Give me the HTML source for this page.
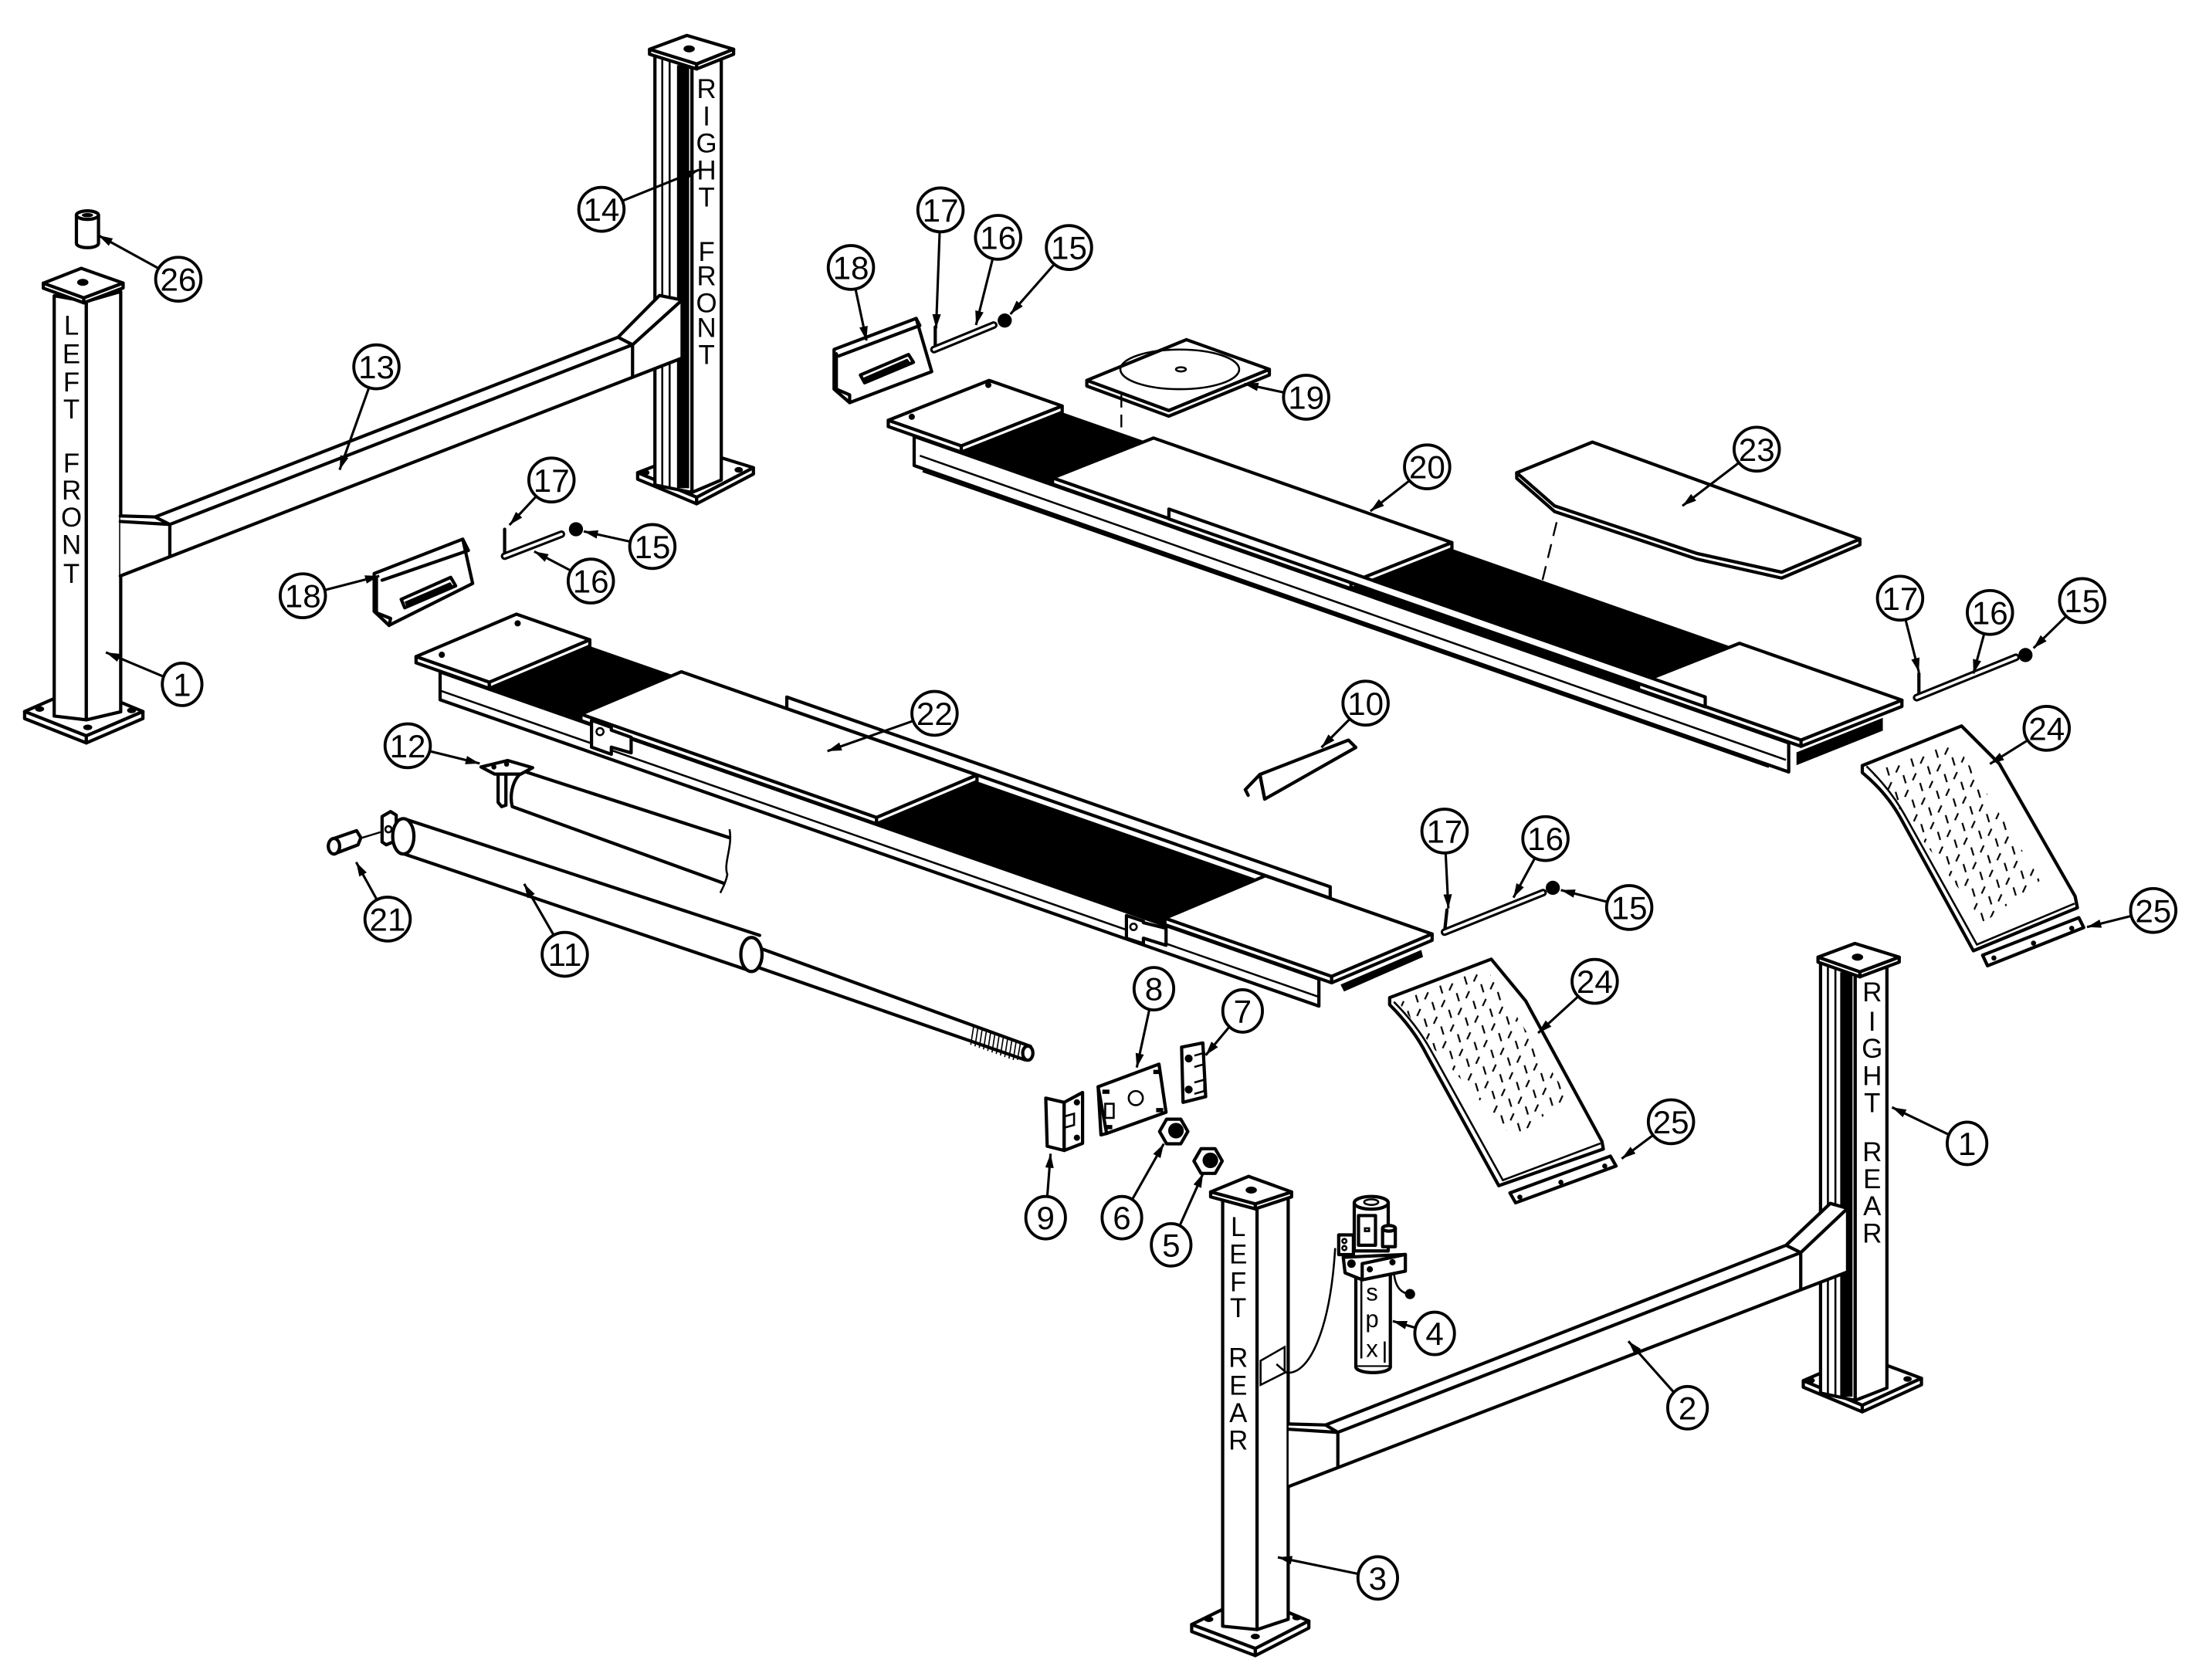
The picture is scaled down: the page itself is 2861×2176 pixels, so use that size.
<!DOCTYPE html>
<html><head><meta charset="utf-8"><style>
html,body{margin:0;padding:0;background:#fff;}
svg{display:block;}
text{font-family:"Liberation Sans",sans-serif;fill:#000;}
.n{font-size:23px;text-anchor:middle;}
.p{font-size:19px;text-anchor:middle;}
.s{fill:#fff;stroke:#000;stroke-width:2.3;stroke-linejoin:round;}
.l{fill:none;stroke:#000;stroke-width:2.3;stroke-linejoin:round;stroke-linecap:round;}
.t{fill:none;stroke:#000;stroke-width:1.4;}
.k{fill:#000;stroke:#000;stroke-width:1;}
.ld{fill:none;stroke:#000;stroke-width:1.7;}
.c{fill:#fff;stroke:#000;stroke-width:2.1;}
</style></head><body>
<svg width="2861" height="2176" viewBox="0 0 1561 1187.2" xmlns="http://www.w3.org/2000/svg">
<defs>
<marker id="a" markerUnits="userSpaceOnUse" markerWidth="11" markerHeight="8" refX="10" refY="4" orient="auto"><path d="M0,1 L10,4 L0,7 Z" fill="#000"/></marker>
<pattern id="dp" width="13" height="13" patternUnits="userSpaceOnUse" patternTransform="rotate(25)">
<path d="M2,1 L2,6.5 M7.5,6 L11.5,10.5" stroke="#000" stroke-width="1.2" fill="none"/>
</pattern>
<clipPath id="c24a"><polygon points="1322,545 1380,522 1442,622 1402,652 1350,582"/></clipPath>
<clipPath id="c24b"><polygon points="988,708 1050,684 1108,775 1070,805 1014,742"/></clipPath>
</defs>

<!-- LEFT FRONT POST -->
<polygon class="s" points="17.4,502.8 58,485 101,502.8 61,520"/>
<polygon class="s" points="17.4,502.8 61,520 61,525 17.4,507.8"/>
<polygon class="s" points="61,520 101,502.8 101,507.8 61,525"/>
<ellipse cx="28" cy="501" rx="3.2" ry="2" fill="#000"/><ellipse cx="62" cy="514" rx="3.2" ry="2" fill="#000"/><ellipse cx="93" cy="502" rx="3.2" ry="2" fill="#000"/>
<polygon class="s" points="38.3,209 61,213 61,508.7 38.3,506"/>
<polygon class="s" points="61,213 85.3,206 85.3,503 61,508.7"/>
<polygon class="s" points="30.6,200.1 57.4,189.6 87,200 59.2,210.5"/>
<polygon class="s" points="30.6,200.1 59.2,210.5 59.2,214 30.6,203.6"/>
<polygon class="s" points="59.2,210.5 87,200 87,203.5 59.2,214"/>
<ellipse cx="58.5" cy="199.5" rx="4" ry="2.5" fill="#000"/>
<text class="p"><tspan x="50.5" y="236.6">L</tspan><tspan x="50.5" y="256.8">E</tspan><tspan x="50.5" y="276.7">F</tspan><tspan x="50.5" y="295.8">T</tspan><tspan x="50.5" y="315"> </tspan><tspan x="50.5" y="334">F</tspan><tspan x="50.5" y="353">R</tspan><tspan x="50.5" y="372">O</tspan><tspan x="50.5" y="391.5">N</tspan><tspan x="50.5" y="412">T</tspan></text>

<!-- RIGHT FRONT POST -->
<polygon class="s" points="450.6,334 492,318 532.4,330.5 492.3,351.4"/>
<polygon class="s" points="450.6,334 492.3,351.4 492.3,356 450.6,338.6"/>
<polygon class="s" points="492.3,351.4 532.4,330.5 532.4,335 492.3,356"/>
<ellipse cx="456" cy="334" rx="3" ry="2" fill="#000"/><ellipse cx="522" cy="332" rx="3" ry="2" fill="#000"/>
<polygon class="s" points="462.8,38.5 489,48 489,348 462.8,342.7"/>
<polygon class="s" points="489,48 509.7,38.5 509.7,339.2 489,348"/>
<path class="t" d="M468,41 L468,344 M473.2,43 L473.2,345"/>
<rect x="478.4" y="46" width="8.6" height="299" fill="#000"/>
<polygon class="s" points="459,34.8 485.4,25 518.4,34.8 492.3,45.2"/>
<polygon class="s" points="459,34.8 492.3,45.2 492.3,48.7 459,38.3"/>
<polygon class="s" points="492.3,45.2 518.4,34.8 518.4,38.3 492.3,48.7"/>
<ellipse cx="487" cy="34.5" rx="4" ry="2.5" fill="#000"/>
<text class="p"><tspan x="499.3" y="69.4">R</tspan><tspan x="499.3" y="88.6">I</tspan><tspan x="499.3" y="107.8">G</tspan><tspan x="499.3" y="126.8">H</tspan><tspan x="499.3" y="145.8">T</tspan><tspan x="499.3" y="165"> </tspan><tspan x="499.3" y="184.3">F</tspan><tspan x="499.3" y="201.6">R</tspan><tspan x="499.3" y="220.8">O</tspan><tspan x="499.3" y="238.2">N</tspan><tspan x="499.3" y="257.3">T</tspan></text>

<!-- BEAM 13 -->
<polygon fill="#fff" points="85,364.6 109.6,365.3 436.7,238.3 466,208.8 482,212 482,253 85,407"/>
<path class="l" d="M85,364.6 L109.6,365.3 L436.7,238.3 L466,208.8 L482,212 M85,368.5 L120,370.6 L447,243.6 L482,212 M109.6,365.3 L120,370.6 L120,393.4 M447,243.6 L447,266.5 M436.7,238.3 L447,243.6 M85,407 L482,253 M482,212 L482,253"/>

<!-- PART 26 -->
<path class="s" d="M54,152 L54,172 A7.8,3 0 0 0 69.6,172 L69.6,152 Z"/>
<ellipse class="s" cx="61.8" cy="152" rx="7.8" ry="3"/>
<ellipse cx="61.8" cy="152" rx="4" ry="1.5" fill="#000"/>

<!-- PART 18 (left) -->
<polygon class="s" points="264.4,405.3 327,381 334,412.3 274.9,441.9 264.4,432"/>
<path class="l" d="M270,410 L331,389 M266,408 L266,433 L276,437 M276,437 L275,442 M327,381 L331,389"/>
<polygon class="s" points="283.5,423.5 318.5,408 322,414 286,429.5"/>
<polygon class="k" points="286.5,425.5 318,412 319.8,414.5 287.5,428"/>

<!-- 17/16/15 left -->
<path class="l" d="M356.6,374 L356.6,393"/>
<line x1="356.6" y1="393" x2="396.7" y2="377.5" stroke="#000" stroke-width="5.4" stroke-linecap="round"/>
<line x1="356.6" y1="393" x2="396.7" y2="377.5" stroke="#fff" stroke-width="2" stroke-linecap="round"/>
<circle cx="407" cy="374" r="5" fill="#000"/>

<!-- RUNWAY 20 -->
<polygon class="s" points="646,308.4 1264,525 1264,545.5 646,329"/>
<path class="t" d="M650,322 L1262,537 M652,333 L1250,542"/>
<polygon class="k" points="750.6,291.9 815.1,314.5 743.8,342.7 679.3,320.1"/>
<polygon class="k" points="1026,388.4 1229.2,459.6 1157.9,487.8 954.7,416.6"/>
<polygon class="s" points="699,268.8 750.6,286.9 679.3,315.1 627.7,297"/>
<polygon class="s" points="627.7,297 679.3,315.1 679.3,319.5 627.7,301.4"/>
<polygon class="s" points="679.3,315.1 750.6,286.9 750.6,291.3 679.3,319.5"/>
<polygon class="s" points="815.1,309.5 1026,383.4 954.7,411.6 743.8,337.7"/>
<polygon class="s" points="743.8,337.7 954.7,411.6 954.7,416 743.8,342.1"/>
<polygon class="s" points="954.7,411.6 1026,383.4 1026,387.8 954.7,416"/>
<polygon class="s" points="1229.2,454.6 1344,494.8 1272.7,523 1157.9,482.8"/>
<polygon class="s" points="1157.9,482.8 1272.7,523 1272.7,527.4 1157.9,487.2"/>
<polygon class="s" points="1272.7,523 1344,494.8 1344,499.2 1272.7,527.4"/>
<polygon class="s" points="826,359.7 1205,492.5 1205,499.5 826,366.7"/>
<polygon class="k" points="1270,532 1330,508 1330,516 1270,540"/>
<circle cx="644.3" cy="294.5" r="2.2" fill="#000"/><circle cx="698.4" cy="272" r="2.2" fill="#000"/>

<!-- PART 19 -->
<polygon class="s" points="768,268.8 838.4,240 897,261 825.9,290.1"/>
<polygon class="s" points="768,268.8 825.9,290.1 897,261 897,265 825.9,294.1 768,272.8"/>
<ellipse class="t" cx="833.7" cy="261" rx="42" ry="14"/>
<ellipse class="t" cx="834.5" cy="261" rx="3.5" ry="1.5"/>
<path d="M792.4,279 L792.4,312" stroke="#000" stroke-width="1.3" stroke-dasharray="9,5"/>

<!-- PART 18 (right) -->
<polygon class="s" points="589.4,246.9 647.4,225 658.4,262.6 600.4,284.5 589.4,275"/>
<path class="l" d="M592.6,251.6 L650,230 M591,250 L591,275 L600.4,279 L600.4,284.5 M647.4,225 L650,230"/>
<polygon class="s" points="608,265 642,250.5 645.5,256 611,270.5"/>
<polygon class="k" points="611,267 641,254 642.8,256.5 612,269.5"/>

<!-- 17/16/15 top -->
<path class="l" d="M660.9,231 L660.9,247"/>
<line x1="660" y1="247" x2="702.2" y2="229.7" stroke="#000" stroke-width="5.4" stroke-linecap="round"/>
<line x1="660" y1="247" x2="702.2" y2="229.7" stroke="#fff" stroke-width="2" stroke-linecap="round"/>
<circle cx="710" cy="226.5" r="5" fill="#000"/>

<!-- PART 23 -->
<polygon class="s" points="1071.8,334.1 1098.6,357.5 1198.9,391 1259,404.3 1314.3,380.9 1314.3,385 1259,408.5 1198.9,395 1098.6,361.5 1071.8,338"/>
<polygon class="s" points="1071.8,334.1 1125.3,312.4 1314.3,380.9 1259,404.3 1198.9,391 1098.6,357.5"/>
<path d="M1100,369 L1090,410" stroke="#000" stroke-width="1.3" stroke-dasharray="10,6"/>

<!-- 17/16/15 right -->
<path class="l" d="M1356,476 L1356,493"/>
<line x1="1354.4" y1="493" x2="1424.6" y2="464.5" stroke="#000" stroke-width="5.4" stroke-linecap="round"/>
<line x1="1354.4" y1="493" x2="1424.6" y2="464.5" stroke="#fff" stroke-width="2" stroke-linecap="round"/>
<circle cx="1431.3" cy="462.9" r="5" fill="#000"/>

<!-- PART 24 (right) -->
<path class="s" d="M1316,541 L1386.1,513 L1412.9,539.8 L1466.4,633.4 L1468,641.5 L1394.5,671.9 L1343,578 Q1333,560 1316,546 Z"/>
<path class="t" d="M1319,541.5 Q1336,558 1346,576 L1397,667.5 L1466,638.5"/>
<rect x="1300" y="500" width="180" height="180" fill="url(#dp)" clip-path="url(#c24a)"/>
<!-- PART 25 (right) -->
<polygon class="s" points="1401,675 1469,648.5 1472.5,655.5 1404.5,682.5"/>
<circle cx="1409" cy="677" r="1.8" fill="#000"/><circle cx="1437" cy="666.5" r="1.8" fill="#000"/><circle cx="1464" cy="656" r="1.8" fill="#000"/>

<!-- RUNWAY 22 -->
<polygon class="s" points="311,474.9 932,691.9 932,711 311,494.5"/>
<path class="t" d="M311,488 L932,704.5"/>
<polygon class="k" points="416.8,457.1 481.5,479.7 410.5,509.7 345.8,487.1"/>
<polygon class="k" points="690.4,552.7 894.2,623.9 823.2,653.9 619.4,582.7"/>
<polygon class="s" points="365,434 416.8,452.1 345.8,482.1 294,464"/>
<polygon class="s" points="294,464 345.8,482.1 345.8,486.5 294,468.4"/>
<polygon class="s" points="345.8,482.1 416.8,452.1 416.8,456.5 345.8,486.5"/>
<polygon class="s" points="481.5,474.7 690.4,547.7 619.4,577.7 410.5,504.7"/>
<polygon class="s" points="410.5,504.7 619.4,577.7 619.4,582.2 410.5,509.2"/>
<polygon class="s" points="619.4,577.7 690.4,547.7 690.4,552.2 619.4,582.2"/>
<polygon class="s" points="894.2,618.9 1012,660 941,690 823.2,648.9"/>
<polygon class="s" points="823.2,648.9 941,690 941,694.5 823.2,653.4"/>
<polygon class="s" points="941,690 1012,660 1012,664.5 941,694.5"/>
<polygon class="s" points="556,492.6 940,626.7 940,634.7 556,500.7"/>
<polygon class="k" points="948,696 1004,672 1005,676 950,700"/>
<circle cx="312.2" cy="462.7" r="2.2" fill="#000"/><circle cx="365.8" cy="440.5" r="2.2" fill="#000"/>
<path class="s" d="M418,509 L418,528 L432,533 L432,528 L446,532 L446,521 L432,516 L432,514 Z"/>
<circle class="t" cx="424" cy="517" r="2.5"/>
<path class="s" d="M796,647 L796,663 L808,667 L808,663 L824,668 L824,656 L808,652 L808,651 Z"/>
<circle class="t" cx="801" cy="655" r="2.3"/>

<!-- CYLINDER 12 -->
<polygon fill="#fff" points="370,545 515.5,592 511,624 362,570"/>
<path class="l" d="M370,545 L515.5,592 M362,570 L511,624 M370,545 C362,550 360,562 362,570"/>
<path class="t" d="M515.5,586 C518,598 511,610 514,618 C513,623 511,627 509,631"/>
<polygon class="s" points="352,545 357.5,546 357.5,569 354.5,570 352,567"/>
<polygon class="s" points="339.9,542 358.7,537.4 376.4,542.5 368,547 349.5,547"/>
<circle cx="349" cy="542" r="1.8" fill="#000"/><circle cx="358" cy="540" r="1.8" fill="#000"/>

<!-- CYLINDER 11 -->
<polygon class="s" points="270,577 276,573.5 280,576 280,594 273,597 270,595"/>
<circle class="t" cx="274.5" cy="586" r="2.2"/>
<path d="M256,592 L269,588" stroke="#000" stroke-width="1.3"/>
<polygon fill="#fff" points="286,578.7 536.8,661 529.2,685.8 286,603.6"/>
<path class="l" d="M286,578.7 L536.8,661 M286,603.6 L529.2,685.8"/>
<ellipse class="s" cx="285" cy="591" rx="7.5" ry="12.5"/>
<polygon fill="#fff" points="533,668.6 728.2,739.4 724.4,749 531,682"/>
<path class="l" d="M533,668.6 L728.2,739.4 M531,682 L724.4,749"/>
<ellipse class="s" cx="531" cy="674.5" rx="7.5" ry="12"/>
<ellipse class="s" cx="726.3" cy="744.2" rx="3.6" ry="5"/>
<path stroke="#000" stroke-width="0.9" d="M688,725.5 L686,738.3 M691,726.6 L689,739.4 M694,727.7 L692,740.5 M697,728.8 L695,741.6 M700,729.9 L698,742.7 M703,731 L701,743.8 M706,732 L704,744.8 M709,733.1 L707,745.9 M712,734.2 L710,747 M715,735.3 L713,748.1 M718,736.4 L716,749 M721,737.5 L719,749"/>
<!-- PART 21 -->
<polygon class="s" points="236,592.5 252,587 255,592 253,597 236,603.5"/>
<ellipse class="s" cx="236" cy="598" rx="4" ry="5.5"/>

<!-- PART 10 -->
<polygon class="s" points="890.3,547.3 952.9,523 958.1,528.2 893.7,564.7"/>
<path class="l" d="M890.3,547.3 L880,558 L882,562 M890.3,547.3 L893.7,564.7"/>

<!-- 17/16/15 lower -->
<path class="l" d="M1022.5,643 L1020.8,658.7"/>
<line x1="1020.8" y1="658.7" x2="1090.4" y2="630.8" stroke="#000" stroke-width="5.4" stroke-linecap="round"/>
<line x1="1020.8" y1="658.7" x2="1090.4" y2="630.8" stroke="#fff" stroke-width="2" stroke-linecap="round"/>
<circle cx="1097.3" cy="627.4" r="5" fill="#000"/>

<!-- PART 24 (lower) -->
<path class="s" d="M982,705 L1053.8,677.8 L1078.2,707.4 L1132,806.6 L1133,812 L1059.1,837.9 L1008,745 Q999,727 982,710 Z"/>
<path class="t" d="M985,708 Q1001,724 1011,742 L1062,834 L1131,808"/>
<rect x="970" y="670" width="170" height="170" fill="url(#dp)" clip-path="url(#c24b)"/>
<!-- PART 25 (lower) -->
<polygon class="s" points="1067,843 1138,817 1142,824 1071,850"/>
<circle cx="1074" cy="846" r="1.8" fill="#000"/><circle cx="1103" cy="835.5" r="1.8" fill="#000"/><circle cx="1134" cy="824" r="1.8" fill="#000"/>

<!-- PART 8 -->
<polygon class="s" points="776,768 819,752 824,786 782,801"/>
<path class="l" d="M776,768 L778,802 L782,801"/>
<ellipse class="t" cx="802.6" cy="776" rx="5" ry="5"/>
<rect x="779" y="770" width="5" height="3" fill="#000"/><rect x="815" y="756" width="5" height="3" fill="#000"/><rect x="817" y="783" width="5" height="3" fill="#000"/><rect x="781" y="795" width="5" height="3" fill="#000"/>
<rect class="t" x="781" y="780" width="6" height="10"/>
<!-- PART 7 -->
<polygon class="s" points="835,740 850,737 852,775 836,779"/>
<circle cx="840" cy="748" r="2.8" fill="#000"/><circle cx="840" cy="770" r="2.8" fill="#000"/>
<path class="t" d="M844,746 L851,744 L851,752 L844,754 M844,765 L851,763 L851,771 L844,773"/>
<!-- PART 9 -->
<polygon class="s" points="739,776 752,779 752,813 740,810"/>
<polygon class="s" points="752,779 765,772 765,808 752,813"/>
<path class="t" d="M752,789 L759,787 L759,795 L752,797"/>
<circle cx="761" cy="779" r="2.2" fill="#000"/><circle cx="761" cy="804" r="2.2" fill="#000"/>
<!-- NUTS 6, 5 -->
<polygon class="s" points="839.4,799.6 834.4,808.3 824.4,808.3 819.4,799.6 824.4,790.9 834.4,790.9"/>
<circle cx="831" cy="799" r="5.5" fill="#000"/>
<polygon class="s" points="863.7,820.5 858.7,829.2 848.7,829.2 843.7,820.5 848.7,811.8 858.7,811.8"/>
<circle cx="855.3" cy="820" r="5.5" fill="#000"/>

<!-- LEFT REAR POST -->
<polygon class="s" points="842.1,1148 883,1128 924.9,1145.5 887.1,1165"/>
<polygon class="s" points="842.1,1148 887.1,1165 887.1,1170 842.1,1153"/>
<polygon class="s" points="887.1,1165 924.9,1145.5 924.9,1150.5 887.1,1170"/>
<ellipse cx="854.2" cy="1144.3" rx="3.2" ry="2" fill="#000"/><ellipse cx="887.1" cy="1156.5" rx="3.2" ry="2" fill="#000"/><ellipse cx="916.4" cy="1143.1" rx="3.2" ry="2" fill="#000"/>
<polygon class="s" points="864,846 888.3,852 888.3,1151.6 864,1149.2"/>
<polygon class="s" points="888.3,852 910.3,844 910.3,1144.3 888.3,1151.6"/>
<polygon class="s" points="855.5,842.3 882.3,831.3 912.7,842.3 887.1,850.8"/>
<polygon class="s" points="855.5,842.3 887.1,850.8 887.1,854.3 855.5,845.8"/>
<polygon class="s" points="887.1,850.8 912.7,842.3 912.7,845.8 887.1,854.3"/>
<ellipse cx="884.2" cy="841" rx="4" ry="2.5" fill="#000"/>
<text class="p"><tspan x="875" y="873.4">L</tspan><tspan x="875" y="892.9">E</tspan><tspan x="875" y="912.4">F</tspan><tspan x="875" y="930.7">T</tspan><tspan x="875" y="948"> </tspan><tspan x="875" y="966">R</tspan><tspan x="875" y="985.5">E</tspan><tspan x="875" y="1005">A</tspan><tspan x="875" y="1024.4">R</tspan></text>
<polygon class="t" points="890.8,961.6 907.8,951.9 907.8,970.1 890.8,978.7" fill="#fff"/>
<path class="t" d="M902,964 L909,970 C925,972 940,940 943.5,882" stroke-width="1.1"/>

<!-- PART 4 -->
<rect class="s" x="958.1" y="898" width="24.4" height="68"/>
<path class="s" d="M958.1,966 A12.2,4 0 0 0 982.5,966"/>
<path class="t" d="M962,905 L962,960 M978.5,948 L978.5,963"/>
<rect class="s" x="957" y="850" width="24" height="34"/>
<ellipse class="s" cx="969" cy="850" rx="12" ry="4.5"/>
<ellipse class="t" cx="969" cy="849.5" rx="5" ry="2"/>
<rect class="s" x="960" y="859" width="12" height="21" stroke-width="1.5"/>
<rect class="t" x="964.5" y="868" width="3" height="2"/>
<rect class="s" x="977" y="868" width="9" height="13" stroke-width="1.5"/>
<ellipse class="s" cx="981.5" cy="868" rx="4.5" ry="2" stroke-width="1.5"/>
<rect class="s" x="946" y="872.7" width="10.4" height="13.9" stroke-width="1.5"/>
<circle class="t" cx="950" cy="877" r="1.5"/><circle class="t" cx="950" cy="882" r="1.5"/>
<polygon class="s" points="949.2,888.5 993.1,886.5 993.1,898.3 962.6,904.4 950.5,899.5"/>
<path class="l" d="M962.6,893 L962.6,904.4 M962.6,893 L993.1,886.5"/>
<circle cx="955" cy="893" r="3" fill="#000"/><circle cx="968" cy="897" r="2.2" fill="#000"/><circle cx="984" cy="892" r="2.2" fill="#000"/>
<path class="t" d="M985,899 Q986,912 994,914"/>
<circle cx="996.4" cy="914.5" r="3.6" fill="#000"/>
<text x="969.6" y="919" style="font-size:17px;text-anchor:middle">s</text>
<text x="969.6" y="938" style="font-size:17px;text-anchor:middle">p</text>
<text x="969.6" y="959" style="font-size:17px;text-anchor:middle">x</text>

<!-- RIGHT REAR POST -->
<polygon class="s" points="1274.3,975.7 1315,958 1357.8,974 1316,993.1"/>
<polygon class="s" points="1274.3,975.7 1316,993.1 1316,997.7 1274.3,980.3"/>
<polygon class="s" points="1316,993.1 1357.8,974 1357.8,978.6 1316,997.7"/>
<ellipse cx="1279.5" cy="975.5" rx="3" ry="2" fill="#000"/><ellipse cx="1348" cy="974.5" rx="3" ry="2" fill="#000"/>
<polygon class="s" points="1286.5,680 1311,689 1311,989.6 1286.5,984.4"/>
<polygon class="s" points="1311,689 1333.4,679 1333.4,980.9 1311,989.6"/>
<path class="t" d="M1291.7,682 L1291.7,986 M1297,684 L1297,987"/>
<rect x="1300.4" y="687" width="8.7" height="300" fill="#000"/>
<polygon class="s" points="1284.7,676.4 1310.8,666.7 1342.1,676.4 1314.3,686.8"/>
<polygon class="s" points="1284.7,676.4 1314.3,686.8 1314.3,690.3 1284.7,679.9"/>
<polygon class="s" points="1314.3,686.8 1342.1,676.4 1342.1,679.9 1314.3,690.3"/>
<ellipse cx="1312.6" cy="676.4" rx="4" ry="2.5" fill="#000"/>
<text class="p"><tspan x="1323" y="707.6">R</tspan><tspan x="1323" y="728.4">I</tspan><tspan x="1323" y="747.6">G</tspan><tspan x="1323" y="766.7">H</tspan><tspan x="1323" y="785.9">T</tspan><tspan x="1323" y="803"> </tspan><tspan x="1323" y="820.7">R</tspan><tspan x="1323" y="839.8">E</tspan><tspan x="1323" y="858.9">A</tspan><tspan x="1323" y="878.1">R</tspan></text>

<!-- BEAM 2 -->
<polygon fill="#fff" points="910.6,1006.3 936.7,1007 1262.1,880 1293.4,850.4 1305.6,853.9 1305.6,898.8 910.6,1050.5"/>
<path class="l" d="M910.6,1006.3 L936.7,1007 L1262.1,880 L1293.4,850.4 L1305.6,853.9 M910.6,1010 L945.4,1012.2 L1272.5,885.2 L1305.6,853.9 M936.7,1007 L945.4,1012.2 L945.4,1037 M1272.5,885.2 L1272.5,911.5 M1262.1,880 L1272.5,885.2 M910.6,1050.5 L1305.6,898.8 M1305.6,853.9 L1305.6,898.8"/>

<!-- LEADERS -->
<g class="ld" marker-end="url(#a)">
<line x1="126" y1="197.3" x2="69.6" y2="166.3"/>
<line x1="266" y1="259.2" x2="240" y2="332"/>
<line x1="425" y1="147.9" x2="494" y2="120"/>
<line x1="389.7" y1="339.2" x2="360" y2="371"/>
<line x1="417.5" y1="410.6" x2="377.5" y2="389.7"/>
<line x1="461" y1="386.2" x2="412.5" y2="375.5"/>
<line x1="214" y1="421" x2="268" y2="407"/>
<line x1="288.1" y1="527" x2="339" y2="539.5"/>
<line x1="273.9" y1="649.5" x2="251.7" y2="609.3"/>
<line x1="399.1" y1="674.4" x2="370.4" y2="624.6"/>
<line x1="660.4" y1="504.1" x2="584.7" y2="530.8"/>
<line x1="601.3" y1="189" x2="612.3" y2="240.6"/>
<line x1="664.6" y1="148.3" x2="661.5" y2="232"/>
<line x1="705.3" y1="167.7" x2="689.7" y2="229.7"/>
<line x1="755.4" y1="174.9" x2="714" y2="222"/>
<line x1="923" y1="280.7" x2="879.2" y2="271.3"/>
<line x1="1008.5" y1="329.9" x2="968.4" y2="361.2"/>
<line x1="1241.4" y1="317.4" x2="1188.9" y2="357.5"/>
<line x1="1342.7" y1="422.7" x2="1356" y2="475"/>
<line x1="1406.2" y1="432.8" x2="1394.5" y2="476"/>
<line x1="1471.4" y1="424.4" x2="1437" y2="458"/>
<line x1="1446.3" y1="514.7" x2="1406.2" y2="539.8"/>
<line x1="1521.6" y1="643.4" x2="1474.8" y2="655.1"/>
<line x1="965" y1="496.9" x2="933.8" y2="528.2"/>
<line x1="1020.8" y1="587.3" x2="1023.5" y2="642"/>
<line x1="1092.1" y1="592.6" x2="1069.5" y2="634.3"/>
<line x1="1151.3" y1="641.3" x2="1103" y2="629"/>
<line x1="1126.9" y1="693.5" x2="1086.9" y2="730"/>
<line x1="1180.8" y1="792.7" x2="1146" y2="818.8"/>
<line x1="128.7" y1="483.6" x2="74.8" y2="461"/>
<line x1="815.4" y1="698.7" x2="803.3" y2="754.4"/>
<line x1="878.1" y1="714.4" x2="852" y2="745.7"/>
<line x1="738.9" y1="860.5" x2="742.4" y2="815.3"/>
<line x1="792.8" y1="860.5" x2="822.4" y2="808.3"/>
<line x1="827.6" y1="879.7" x2="850.2" y2="829.2"/>
<line x1="1013.8" y1="942.3" x2="984.2" y2="933.6"/>
<line x1="973.6" y1="1115.1" x2="903" y2="1100.5"/>
<line x1="1192.5" y1="994.8" x2="1150.7" y2="947.8"/>
<line x1="1390" y1="808" x2="1337" y2="782.5"/>
</g>

<!-- BALLOONS -->
<g class="c">
<ellipse cx="126" cy="197.3" rx="16" ry="15.5"/>
<ellipse cx="266" cy="259.2" rx="16" ry="15.5"/>
<ellipse cx="425" cy="147.9" rx="16" ry="15.5"/>
<ellipse cx="389.7" cy="339.2" rx="16" ry="15.5"/>
<ellipse cx="417.5" cy="410.6" rx="16" ry="15.5"/>
<ellipse cx="461" cy="386.2" rx="16" ry="15.5"/>
<ellipse cx="214" cy="421" rx="16" ry="15.5"/>
<ellipse cx="288.1" cy="527" rx="16" ry="15.5"/>
<ellipse cx="273.9" cy="649.5" rx="16" ry="15.5"/>
<ellipse cx="399.1" cy="674.4" rx="16" ry="15.5"/>
<ellipse cx="660.4" cy="504.1" rx="16" ry="15.5"/>
<ellipse cx="601.3" cy="189" rx="16" ry="15.5"/>
<ellipse cx="664.6" cy="148.3" rx="16" ry="15.5"/>
<ellipse cx="705.3" cy="167.7" rx="16" ry="15.5"/>
<ellipse cx="755.4" cy="174.9" rx="16" ry="15.5"/>
<ellipse cx="923" cy="280.7" rx="16" ry="15.5"/>
<ellipse cx="1008.5" cy="329.9" rx="16" ry="15.5"/>
<ellipse cx="1241.4" cy="317.4" rx="16" ry="15.5"/>
<ellipse cx="1342.7" cy="422.7" rx="16" ry="15.5"/>
<ellipse cx="1406.2" cy="432.8" rx="16" ry="15.5"/>
<ellipse cx="1471.4" cy="424.4" rx="16" ry="15.5"/>
<ellipse cx="1446.3" cy="514.7" rx="16" ry="15.5"/>
<ellipse cx="1521.6" cy="643.4" rx="16" ry="15.5"/>
<ellipse cx="965" cy="496.9" rx="16" ry="15.5"/>
<ellipse cx="1020.8" cy="587.3" rx="16" ry="15.5"/>
<ellipse cx="1092.1" cy="592.6" rx="16" ry="15.5"/>
<ellipse cx="1151.3" cy="641.3" rx="16" ry="15.5"/>
<ellipse cx="1126.9" cy="693.5" rx="16" ry="15.5"/>
<ellipse cx="1180.8" cy="792.7" rx="16" ry="15.5"/>
<ellipse cx="128.7" cy="483.6" rx="14" ry="15"/>
<ellipse cx="815.4" cy="698.7" rx="14" ry="15"/>
<ellipse cx="878.1" cy="714.4" rx="14" ry="15"/>
<ellipse cx="738.9" cy="860.5" rx="14" ry="15"/>
<ellipse cx="792.8" cy="860.5" rx="14" ry="15"/>
<ellipse cx="827.6" cy="879.7" rx="14" ry="15"/>
<ellipse cx="1013.8" cy="942.3" rx="14" ry="15"/>
<ellipse cx="973.6" cy="1115.1" rx="14" ry="15"/>
<ellipse cx="1192.5" cy="994.8" rx="14" ry="15"/>
<ellipse cx="1390" cy="808" rx="14" ry="15"/>
</g>
<g>
<text x="126" y="205.5" class="n">26</text>
<text x="266" y="267.4" class="n">13</text>
<text x="425" y="156.1" class="n">14</text>
<text x="389.7" y="347.4" class="n">17</text>
<text x="417.5" y="418.8" class="n">16</text>
<text x="461" y="394.4" class="n">15</text>
<text x="214" y="429.2" class="n">18</text>
<text x="288.1" y="535.2" class="n">12</text>
<text x="273.9" y="657.7" class="n">21</text>
<text x="399.1" y="682.6" class="n">11</text>
<text x="660.4" y="512.3" class="n">22</text>
<text x="601.3" y="197.2" class="n">18</text>
<text x="664.6" y="156.5" class="n">17</text>
<text x="705.3" y="175.9" class="n">16</text>
<text x="755.4" y="183.1" class="n">15</text>
<text x="923" y="288.9" class="n">19</text>
<text x="1008.5" y="338.1" class="n">20</text>
<text x="1241.4" y="325.6" class="n">23</text>
<text x="1342.7" y="430.9" class="n">17</text>
<text x="1406.2" y="441" class="n">16</text>
<text x="1471.4" y="432.6" class="n">15</text>
<text x="1446.3" y="522.9" class="n">24</text>
<text x="1521.6" y="651.6" class="n">25</text>
<text x="965" y="505.1" class="n">10</text>
<text x="1020.8" y="595.5" class="n">17</text>
<text x="1092.1" y="600.8" class="n">16</text>
<text x="1151.3" y="649.5" class="n">15</text>
<text x="1126.9" y="701.7" class="n">24</text>
<text x="1180.8" y="800.9" class="n">25</text>
<text x="128.7" y="491.8" class="n">1</text>
<text x="815.4" y="706.9" class="n">8</text>
<text x="878.1" y="722.6" class="n">7</text>
<text x="738.9" y="868.7" class="n">9</text>
<text x="792.8" y="868.7" class="n">6</text>
<text x="827.6" y="887.9" class="n">5</text>
<text x="1013.8" y="950.5" class="n">4</text>
<text x="973.6" y="1123.3" class="n">3</text>
<text x="1192.5" y="1003" class="n">2</text>
<text x="1390" y="816.2" class="n">1</text>
</g>
</svg>
</body></html>
